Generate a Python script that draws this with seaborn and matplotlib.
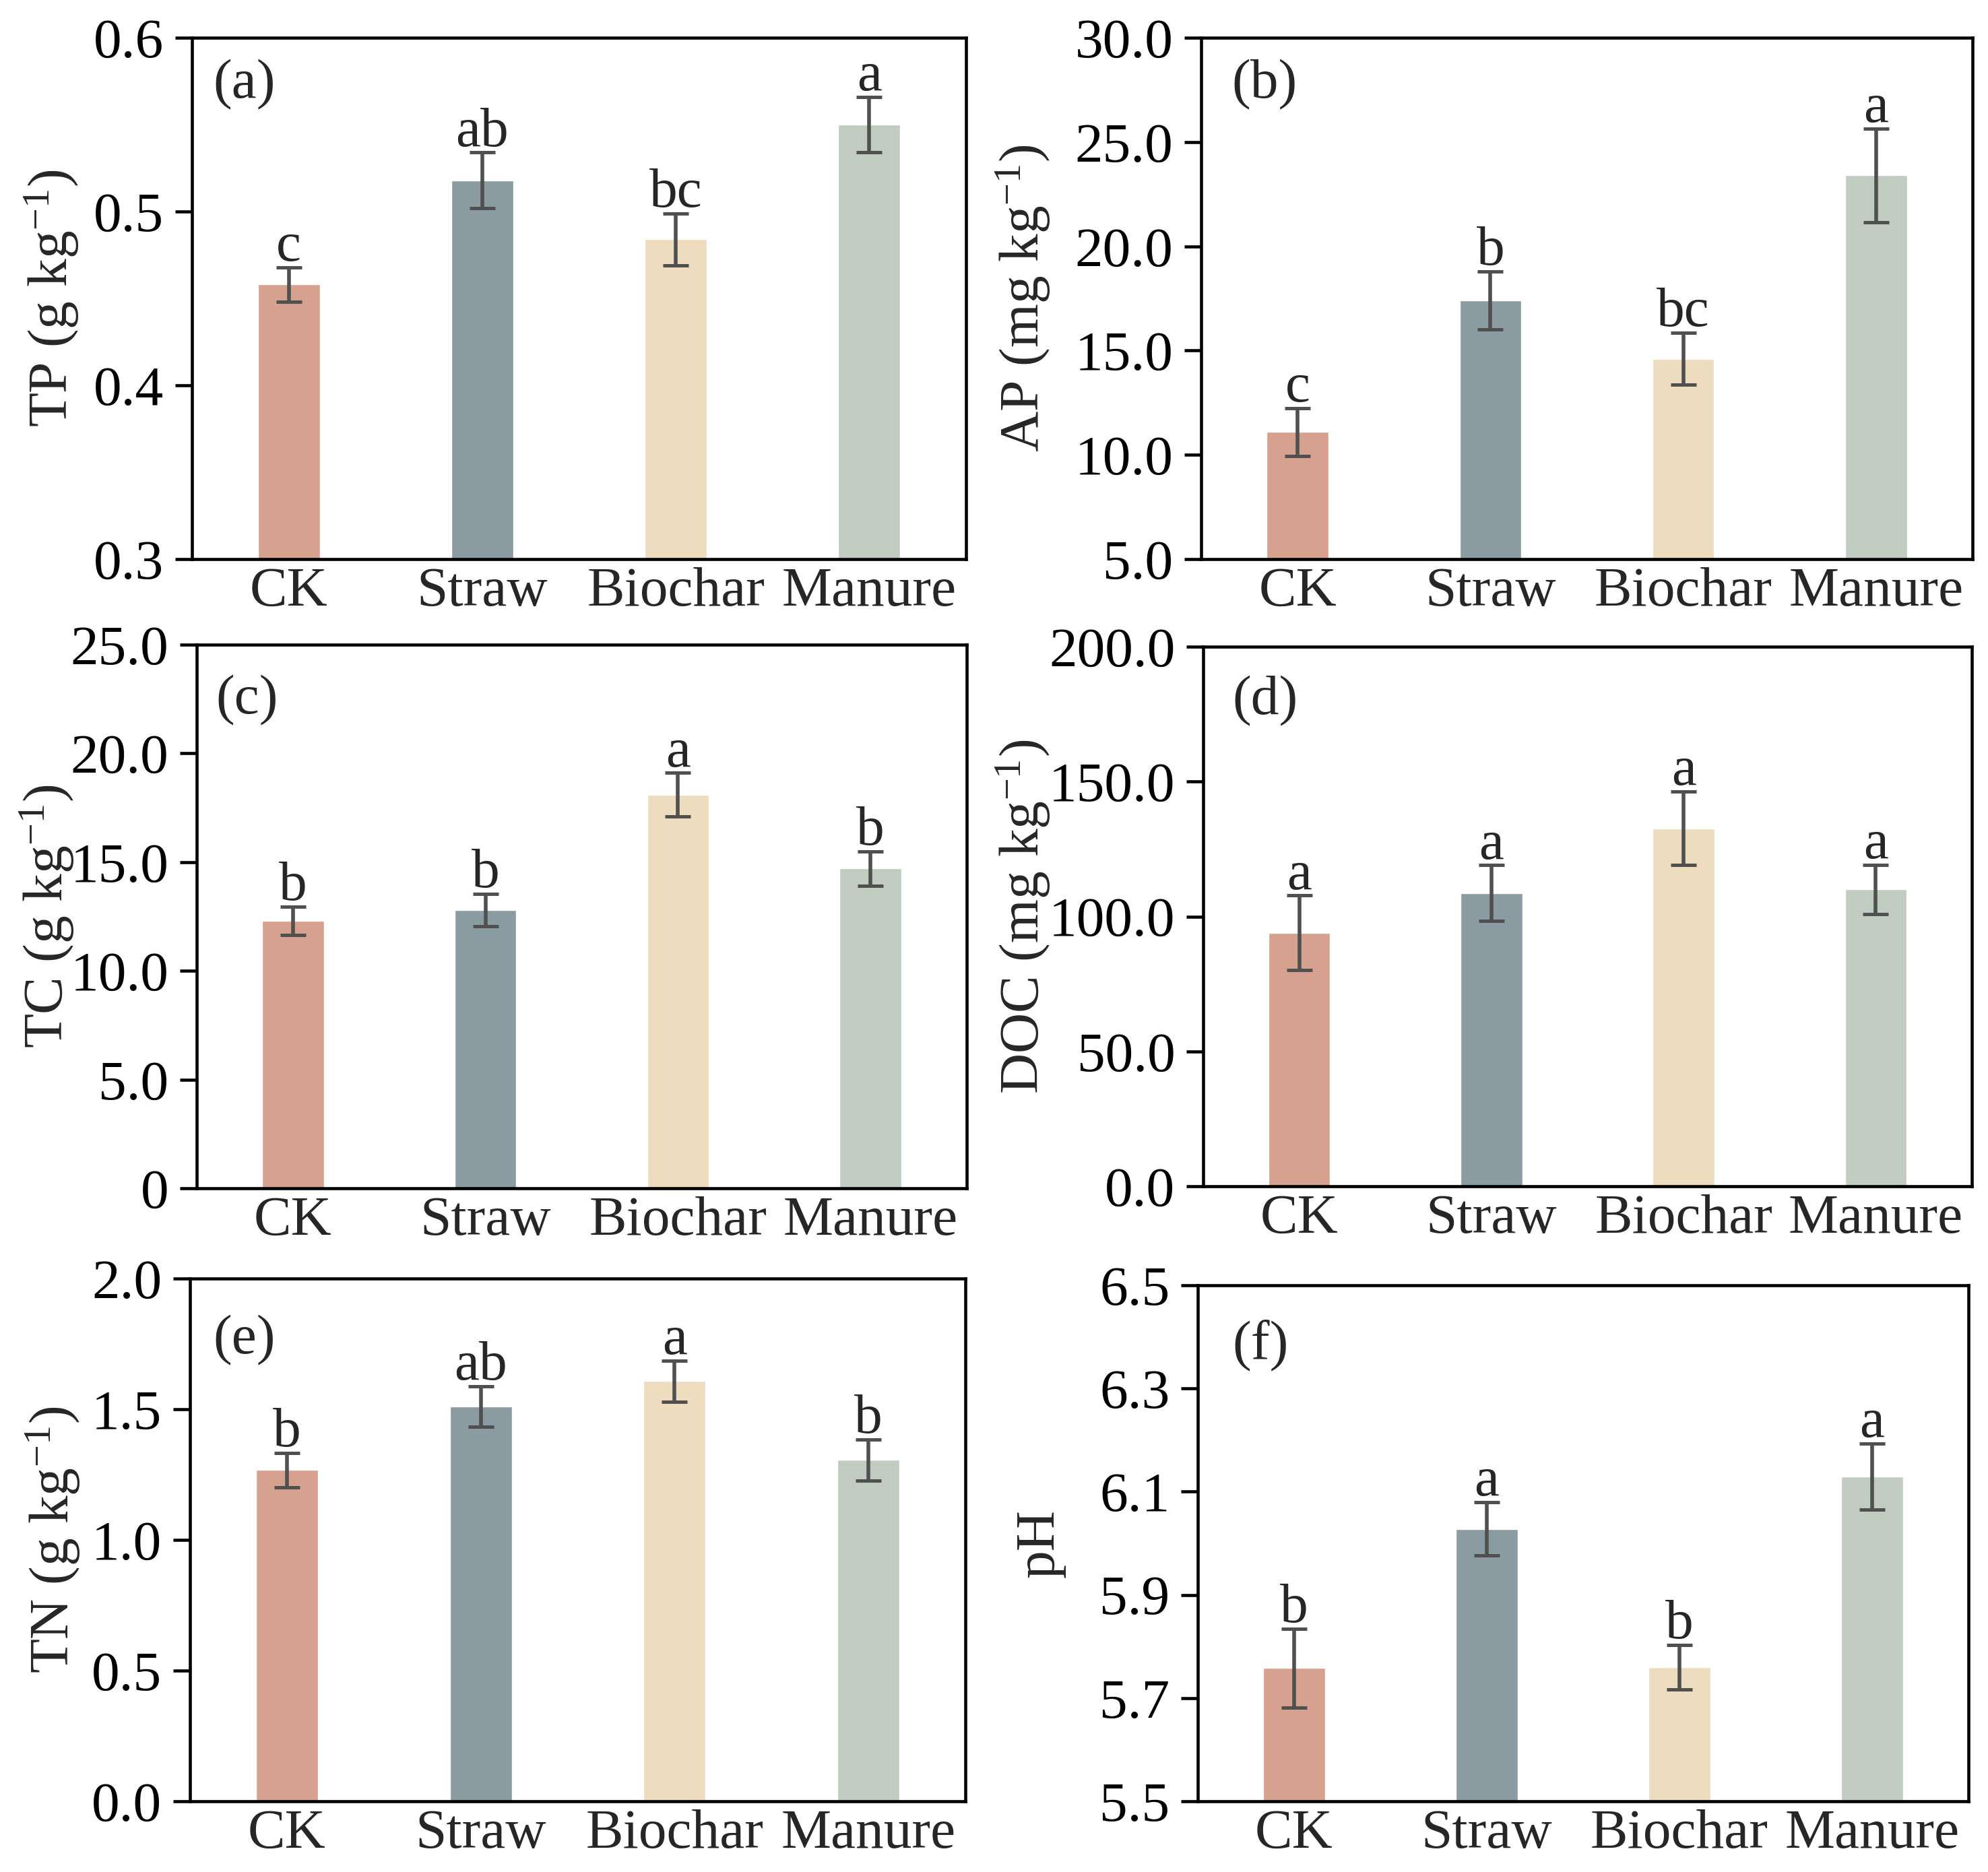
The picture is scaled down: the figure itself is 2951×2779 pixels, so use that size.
import numpy as np
import pandas as pd
import matplotlib
matplotlib.use("Agg")
import matplotlib.pyplot as plt
import seaborn as sns

sns.set_style("ticks")
plt.rcParams['font.family'] = ['Liberation Serif', 'DejaVu Serif']
plt.rcParams['mathtext.fontset'] = 'custom'
plt.rcParams['mathtext.rm'] = 'Liberation Serif'
plt.rcParams['mathtext.it'] = 'Liberation Serif:italic'
plt.rcParams['mathtext.bf'] = 'Liberation Serif:bold'

categories = ["CK", "Straw", "Biochar", "Manure"]
colors = ["#D6A18E", "#8A9BA1", "#EDDCBE", "#C1CCC0"]

tp_mean = [0.458, 0.518, 0.484, 0.550]
tp_sd = [0.010, 0.016, 0.015, 0.016]
tp_letters = ["c", "ab", "bc", "a"]

ap_mean = [11.1, 17.4, 14.6, 23.4]
ap_sd = [1.15, 1.4, 1.25, 2.25]
ap_letters = ["c", "b", "bc", "a"]

tc_mean = [12.3, 12.8, 18.1, 14.7]
tc_sd = [0.65, 0.75, 1.0, 0.8]
tc_letters = ["b", "b", "a", "b"]

doc_mean = [94.0, 108.7, 132.7, 110.0]
doc_sd = [13.8, 10.3, 13.7, 9.2]
doc_letters = ["a", "a", "a", "a"]

tn_mean = [1.267, 1.510, 1.607, 1.306]
tn_sd = [0.065, 0.078, 0.078, 0.078]
tn_letters = ["b", "ab", "a", "b"]

ph_mean = [5.758, 6.028, 5.760, 6.129]
ph_sd = [0.076, 0.052, 0.043, 0.064]
ph_letters = ["b", "a", "b", "a"]

ylabels = [r"TP (g kg$^{-1}$)", r"AP (mg kg$^{-1}$)", r"TC (g kg$^{-1}$)",
           r"DOC (mg kg$^{-1}$)", r"TN (g kg$^{-1}$)", "pH"]
panel_tags = ["(a)", "(b)", "(c)", "(d)", "(e)", "(f)"]

tp_ticks = [0.3, 0.4, 0.5, 0.6]
tp_ticklabels = ["0.3", "0.4", "0.5", "0.6"]
ap_ticks = [5, 10, 15, 20, 25, 30]
ap_ticklabels = ["5.0", "10.0", "15.0", "20.0", "25.0", "30.0"]
tc_ticks = [0, 5, 10, 15, 20, 25]
tc_ticklabels = ["0", "5.0", "10.0", "15.0", "20.0", "25.0"]
doc_ticks = [0, 50, 100, 150, 200]
doc_ticklabels = ["0.0", "50.0", "100.0", "150.0", "200.0"]
tn_ticks = [0.0, 0.5, 1.0, 1.5, 2.0]
tn_ticklabels = ["0.0", "0.5", "1.0", "1.5", "2.0"]
ph_ticks = [5.5, 5.7, 5.9, 6.1, 6.3, 6.5]
ph_ticklabels = ["5.5", "5.7", "5.9", "6.1", "6.3", "6.5"]

panels = [
    (tp_mean, tp_sd, tp_letters, tp_ticks, tp_ticklabels),
    (ap_mean, ap_sd, ap_letters, ap_ticks, ap_ticklabels),
    (tc_mean, tc_sd, tc_letters, tc_ticks, tc_ticklabels),
    (doc_mean, doc_sd, doc_letters, doc_ticks, doc_ticklabels),
    (tn_mean, tn_sd, tn_letters, tn_ticks, tn_ticklabels),
    (ph_mean, ph_sd, ph_letters, ph_ticks, ph_ticklabels),
]

W, H = 2951, 2779
# axes boxes in pixels: left, right, top, bottom
boxes = [
    (285, 1434, 56, 830),
    (1783, 2928, 56, 830),
    (292, 1435, 957, 1764),
    (1786, 2927, 960, 1761),
    (282, 1433, 1898, 2674),
    (1778, 2922, 1908, 2674),
]
label_x = [-0.144, -0.193, -0.157, -0.196, -0.139, -0.172]
tag_pos = [(0.027, 0.959), (0.040, 0.959), (0.025, 0.944),
           (0.038, 0.946), (0.030, 0.930), (0.045, 0.934)]

FS = 60
LW = 3.3

fig = plt.figure(figsize=(W / 100, H / 100), dpi=100)

for k, (means, sds, letters, ticks, ticklabels) in enumerate(panels):
    l, r, t, b = boxes[k]
    ax = fig.add_axes([l / W, 1 - b / H, (r - l) / W, (b - t) / H])
    df = pd.DataFrame({"group": categories, "value": means})
    sns.barplot(data=df, x="group", y="value", hue="group", palette=colors,
                order=categories, hue_order=categories, width=0.32,
                saturation=1, errorbar=None, legend=False, ax=ax)
    xpos = np.arange(len(categories))
    ax.errorbar(xpos, means, yerr=sds, fmt="none", ecolor="#505050",
                elinewidth=4, capsize=13.5, capthick=3.6, zorder=3)
    for i, (m, s, let) in enumerate(zip(means, sds, letters)):
        ax.annotate(let, (xpos[i], m + s), xytext=(0, 7),
                    textcoords="offset points", ha="center", va="baseline",
                    fontsize=FS)
    ax.set_xlim(-0.5, len(categories) - 0.5)
    ax.set_ylim(ticks[0], ticks[-1])
    ax.set_yticks(ticks)
    ax.set_yticklabels(ticklabels)
    ax.set_xticks(xpos)
    ax.set_xticklabels(categories)
    ax.set_xlabel("")
    ax.set_ylabel(ylabels[k], fontsize=FS)
    ax.yaxis.set_label_coords(label_x[k], 0.5)
    ax.tick_params(axis="y", length=18, width=LW, pad=12, labelsize=FS,
                   direction="out", colors="black")
    ax.tick_params(axis="x", length=0, pad=8, labelsize=FS)
    for sp in ax.spines.values():
        sp.set_visible(True)
        sp.set_linewidth(LW)
        sp.set_color("black")
    ax.text(tag_pos[k][0], tag_pos[k][1], panel_tags[k], transform=ax.transAxes,
            ha="left", va="top", fontsize=FS)

fig.savefig("out.png", dpi=100, facecolor="white")
